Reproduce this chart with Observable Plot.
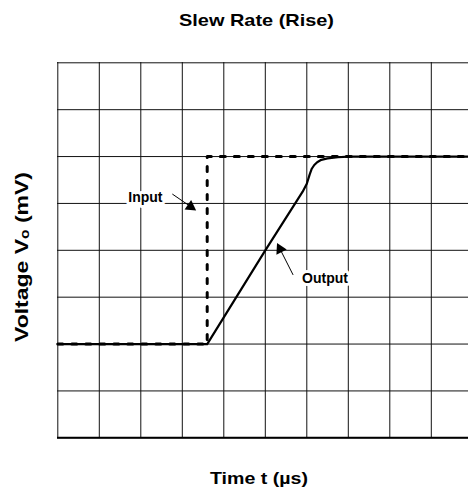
<!DOCTYPE html>
<html><head><meta charset="utf-8">
<script src="https://cdn.jsdelivr.net/npm/d3@7"></script>
<script src="https://cdn.jsdelivr.net/npm/@observablehq/plot@0.6"></script>
<style>body{margin:0;background:#fff}</style>
</head><body><div id="chart"></div>
<script>
// grid divisions
const gridX = [0,1,2,3,4,5,6,7,8,9,10];
const gridY = [0,1,2,3,4,5,6,7,8];
// input step (dotted)
const inputX = [0, 3.6, 3.6, 10];
const inputY = [2, 2, 6, 6];
// output response
const outputX = [0, 3.6, 5.0, 5.9, 6.0, 6.07, 6.12, 6.18, 6.25, 6.35, 6.5, 6.75, 7.0, 10];
const outputY = [2, 2, 4.0, 5.25, 5.42, 5.62, 5.74, 5.82, 5.88, 5.93, 5.96, 5.985, 6.0, 6.0];
// annotations
const labelText = ["Input", "Output"];
const labelX = [2.11, 6.44];
const labelY = [5.12, 3.40];
const arrowX1 = [2.76, 5.67];
const arrowY1 = [5.20, 3.475];
const arrowX2 = [3.32, 5.29];
const arrowY2 = [4.86, 4.14];
const titleText = "Slew Rate (Rise)";
const xLabel = "Time t (µs)";
const yLabel = "Voltage Vₒ (mV)";

const X0 = 57.3, X1 = 472.3, Y0 = 437.3, Y1 = 62.3;
const kx = (X1 - X0) / 10, ky = (Y0 - Y1) / 8;

const inputData = inputX.map((x, i) => ({x, y: inputY[i]}));
const outputData = outputX.map((x, i) => ({x, y: outputY[i]}));
const labels = labelText.map((t, i) => ({t, x: labelX[i], y: labelY[i]}));
const arrows = arrowX1.map((x1, i) => {
  const x2 = arrowX2[i], y1 = arrowY1[i], y2 = arrowY2[i];
  const dxp = (x2 - x1) * kx, dyp = -(y2 - y1) * ky;
  const L = Math.hypot(dxp, dyp), ux = dxp / L, uy = dyp / L;
  const back = 6;
  return {x1, y1, x2: x2 - ux * 4 / kx, y2: y2 + uy * 4 / ky,
          hx: x2 - ux * back / kx, hy: y2 + uy * back / ky,
          rot: Math.atan2(ux, -uy) * 180 / Math.PI};
});

const font = "'Liberation Sans', Arial, Helvetica, sans-serif";
const chart = Plot.plot({
  width: 468, height: 491,
  marginLeft: 57, marginRight: 0, marginTop: 62, marginBottom: 54,
  x: {domain: [0, 10], range: [X0, X1], axis: null},
  y: {domain: [0, 8], range: [Y0, Y1], axis: null},
  style: {fontFamily: font, background: "white", overflow: "hidden"},
  marks: [
    Plot.ruleX(gridX, {stroke: "#111", strokeWidth: 1}),
    Plot.ruleY(gridY, {stroke: "#111", strokeWidth: 1}),
    Plot.ruleY([0], {stroke: "#000", strokeWidth: 2}),
    Plot.line(inputData, {x: "x", y: "y", stroke: "#000", strokeWidth: 3, strokeDasharray: "5,9"}),
    Plot.line(outputData, {x: "x", y: "y", stroke: "#000", strokeWidth: 2.2}),
    Plot.link(arrows, {x1: "x1", y1: "y1", x2: "x2", y2: "y2", stroke: "#000", strokeWidth: 1}),
    Plot.dot(arrows, {x: "hx", y: "hy", symbol: "triangle", r: 4.3, fill: "#000", stroke: "none", rotate: "rot"}),
    Plot.text(labels, {x: "x", y: "y", text: "t", fontSize: 14, fontWeight: "bold", fill: "#000", stroke: "white", strokeWidth: 6}),
    Plot.text([titleText], {frameAnchor: "top", dx: -6.5, dy: -41.7, lineAnchor: "middle", textAnchor: "middle", fontSize: 17, fontWeight: "bold", fill: "#000"}),
    Plot.text([xLabel], {frameAnchor: "bottom", dx: -4, dy: 40.9, lineAnchor: "middle", textAnchor: "middle", fontSize: 17, fontWeight: "bold", fill: "#000"}),
    Plot.text([yLabel], {frameAnchor: "left", dx: -36, dy: 7, rotate: -90, lineAnchor: "middle", textAnchor: "middle", fontSize: 19, fontWeight: "bold", fill: "#000"})
  ]
});
// glyph stretch along the text direction, as in the reference
const stretch = {[titleText]: 155, [xLabel]: 98, [yLabel]: 170};
d3.select(chart).selectAll("text").each(function() {
  const w = stretch[this.textContent];
  if (w) { this.setAttribute("textLength", w); this.setAttribute("lengthAdjust", "spacingAndGlyphs"); }
});
document.getElementById("chart").appendChild(chart);
</script>
</body></html>
